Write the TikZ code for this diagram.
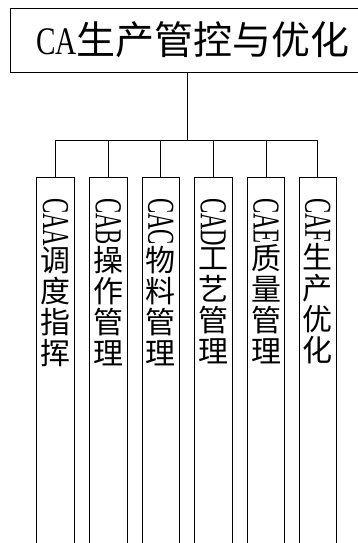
\documentclass[tikz,border=0pt]{standalone}
\usepackage{fontspec}
\setmainfont{Liberation Serif}
\newfontfamily\cjk{Noto Sans CJK SC}
\newfontfamily\latin{Liberation Serif}
\usetikzlibrary{positioning}
% narrow latin code, upright and turned
\newcommand{\code}[1]{\scalebox{0.75}[1]{\latin #1}}
\newcommand{\vcode}[1]{\rotatebox{-90}{\scalebox{0.6}[1]{\fontsize{38}{38}\selectfont\latin #1}}}

\begin{document}
\begin{tikzpicture}[
  x=1pt, y=1pt,
  topbox/.style={rectangle, draw, line width=0.8pt, minimum width=348pt, minimum height=64pt, inner sep=0pt, font=\cjk\fontsize{39}{39}\selectfont},
  subbox/.style={rectangle, draw, line width=0.8pt, minimum width=37.5pt, minimum height=400pt, anchor=north},
  subtext/.style={align=center, inner sep=0pt, font=\cjk\fontsize{30}{31}\selectfont},
  link/.style={line width=0.8pt}
]
\useasboundingbox (0,0) rectangle (358,-543);

\node[topbox] (ca) at (184,-40) {\hspace*{24pt}\code{CA}生产管控与优化\hspace*{6pt}};
\coordinate (bus) at (187,-140);

\node[subbox] (caa) at (55.5,-177) {};
\node[subbox] (cab) at (108.3,-177) {};
\node[subbox] (cac) at (160.8,-177) {};
\node[subbox] (cad) at (213.3,-177) {};
\node[subbox] (cae) at (266,-177) {};
\node[subbox] (caf) at (317.7,-177) {};

\node[subtext, below=21pt of caa.north] (caatext) {\vcode{CAA}\\调\\度\\指\\挥};
\node[subtext, below=21pt of cab.north] (cabtext) {\vcode{CAB}\\操\\作\\管\\理};
\node[subtext, below=21pt of cac.north] (cactext) {\vcode{CAC}\\物\\料\\管\\理};
\node[subtext, below=21pt of cad.north] (cadtext) {\vcode{CAD}\\工\\艺\\管\\理};
\node[subtext, below=21pt of cae.north] (caetext) {\vcode{CAE}\\质\\量\\管\\理};
\node[subtext, below=21pt of caf.north] (caftext) {\vcode{CAF}\\生\\产\\优\\化};

\draw[link] (ca.south -| bus) -- (bus);
\draw[link] (bus) -| (caa.north);
\draw[link] (bus) -| (cab.north);
\draw[link] (bus) -| (cac.north);
\draw[link] (bus) -| (cad.north);
\draw[link] (bus) -| (cae.north);
\draw[link] (bus) -| (caf.north);
\end{tikzpicture}
\end{document}
